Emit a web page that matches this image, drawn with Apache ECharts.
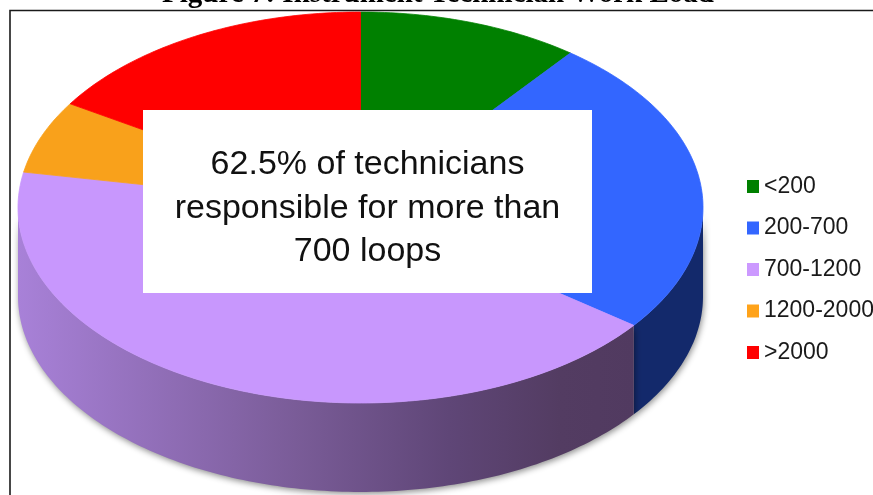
<!DOCTYPE html>
<html>
<head>
<meta charset="utf-8">
<script src="https://cdn.jsdelivr.net/npm/echarts@6/dist/echarts.min.js"></script>
<style>
html,body{margin:0;padding:0;background:#fff;}
#chart{width:873px;height:495px;}
</style>
</head>
<body>
<div id="chart"></div>
<script>
// ---- data ----
const categories = ['<200', '200-700', '700-1200', '1200-2000', '>2000'];
const values = [10.5, 24.8, 42.6, 6.0, 16.1];
const titleText = 'Figure 7: Instrument Technician Work Load';
const noteLines = ['62.5% of technicians', 'responsible for more than', '700 loops'];

// ---- styles ----
const topColors = ['#008000', '#3366ff', '#c897fd', '#f9a11b', '#ff0000'];
const legendColors = ['#008000', '#3366ff', '#cc99ff', '#ffa31a', '#ff0000'];
const wallColors = [
  '#0a4a0a',
  '#13296b',
  new echarts.graphic.LinearGradient(0, 0, 1, 0, [
    {offset: 0, color: '#a881d8'},
    {offset: 0.45, color: '#7a5c98'},
    {offset: 0.7, color: '#5f4677'},
    {offset: 0.88, color: '#533c62'},
    {offset: 1, color: '#513a60'}
  ]),
  '#9a6a10',
  '#8a0000'
];
const DEPTH = 0.455; // wall height in y-axis units

const total = values.reduce((a, b) => a + b, 0);
const shares = values.map(v => v / total);
const starts = [];
shares.reduce((acc, s, i) => { starts[i] = acc; return acc + s; }, 0);

const rad = d => d * Math.PI / 180;

function arcPoints(api, a1, a2, dy) {
  const pts = [];
  const n = Math.max(2, Math.ceil(Math.abs(a1 - a2)));
  for (let k = 0; k <= n; k++) {
    const a = rad(a1 + (a2 - a1) * k / n);
    pts.push(api.coord([Math.cos(a), Math.sin(a) - dy]));
  }
  return pts;
}

function topRender(params, api) {
  const s = api.value(0), v = api.value(1);
  const a1 = 90 - s * 360, a2 = 90 - (s + v) * 360;
  const pts = [api.coord([0, 0])].concat(arcPoints(api, a1, a2, 0));
  const c = api.visual('color');
  return {type: 'polygon', shape: {points: pts}, style: {fill: c, stroke: c, lineWidth: 0.8}};
}

function wallRender(params, api) {
  const s = api.value(0), v = api.value(1), idx = api.value(2);
  let a1 = 90 - s * 360, a2 = 90 - (s + v) * 360; // a1 > a2
  const hi = Math.min(a1, 0), lo = Math.max(a2, -180);
  if (hi <= lo) return null;
  const topArc = arcPoints(api, hi, lo, 0);
  const botArc = arcPoints(api, lo, hi, DEPTH);
  return {
    type: 'polygon',
    shape: {points: topArc.concat(botArc)},
    style: {
      fill: wallColors[idx], stroke: null,
      shadowBlur: 6, shadowColor: 'rgba(0,0,0,0.45)', shadowOffsetX: 1, shadowOffsetY: 2
    }
  };
}

const series = [{
  type: 'custom',
  name: 'walls',
  renderItem: wallRender,
  coordinateSystem: 'cartesian2d',
  data: categories.map((c, i) => [starts[i], shares[i], i]),
  z: 1,
  silent: true
}];
categories.forEach((c, i) => {
  series.push({
    type: 'custom',
    name: c,
    renderItem: topRender,
    coordinateSystem: 'cartesian2d',
    itemStyle: {color: topColors[i]},
    data: [[starts[i], shares[i]]],
    z: 2,
    silent: true
  });
});

const chart = echarts.init(document.getElementById('chart'), null, {renderer: 'canvas'});
chart.setOption({
  animation: false,
  backgroundColor: '#ffffff',
  grid: {left: 18, top: 12, width: 685, height: 391},
  xAxis: {type: 'value', min: -1, max: 1, show: false},
  yAxis: {type: 'value', min: -1, max: 1, show: false},
  legend: {
    data: categories.map((c, i) => ({name: c, itemStyle: {color: legendColors[i]}})),
    orient: 'vertical',
    left: 747,
    top: 175,
    padding: 0,
    icon: 'rect',
    itemWidth: 12,
    itemHeight: 13,
    itemGap: 18.5,
    selectedMode: false,
    textStyle: {fontFamily: 'Liberation Sans', fontSize: 23, color: '#1a1a1a', lineHeight: 22}
  },
  graphic: [
    {
      type: 'rect', z: 100,
      shape: {x: 10, y: 10.5, width: 900, height: 600},
      style: {fill: null, stroke: '#1a1a1a', lineWidth: 1.6}
    },
    {
      type: 'text', z: 100,
      x: 438, y: -5,
      style: {
        text: titleText, fontFamily: 'Liberation Serif', fontWeight: 'bold', fontSize: 29,
        fill: '#000', align: 'center', verticalAlign: 'middle'
      }
    },
    {
      type: 'rect', z: 100,
      shape: {x: 143, y: 110, width: 449, height: 183},
      style: {fill: '#ffffff', stroke: null}
    }
  ].concat(noteLines.map((t, k) => ({
    type: 'text', z: 101,
    x: 367.5, y: 165 + k * 43.5,
    style: {
      text: t, fontFamily: 'Liberation Sans', fontSize: 34, fill: '#111',
      align: 'center', verticalAlign: 'middle'
    }
  }))),
  series: series
});
</script>
</body>
</html>
